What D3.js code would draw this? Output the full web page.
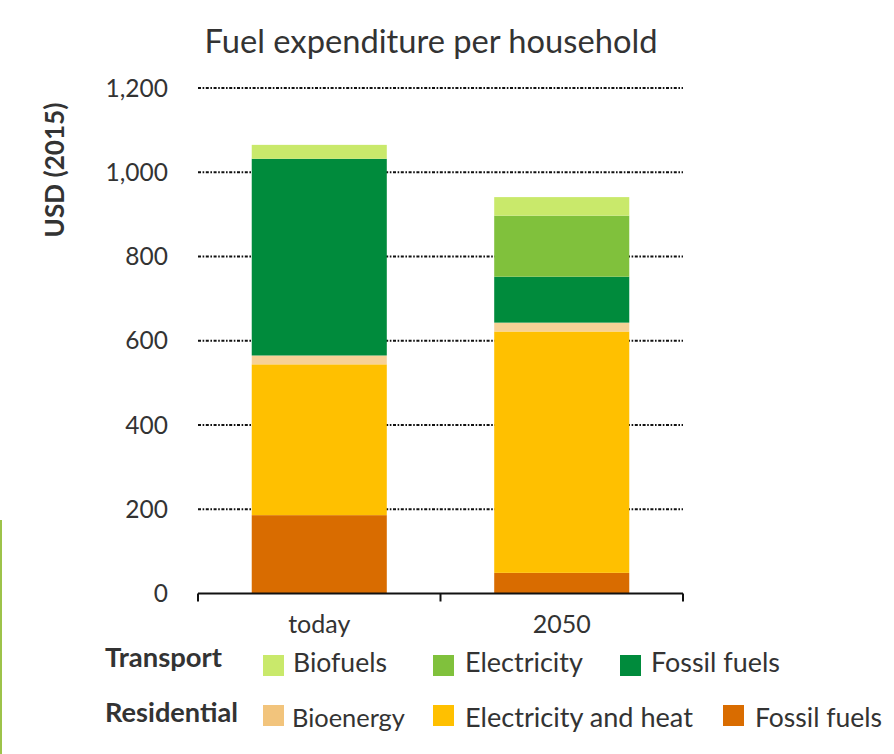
<!DOCTYPE html>
<html>
<head>
<meta charset="utf-8">
<script src="https://cdn.jsdelivr.net/npm/d3@7"></script>
<style>
  html, body { margin: 0; padding: 0; background: #fff; }
  svg { display: block; }
  text { font-family: Lato, "Open Sans", sans-serif; fill: #333; }
</style>
</head>
<body>
<svg id="chart" width="894" height="754"></svg>
<script>
// ---- data ----
const categories = ["today", "2050"];
const resFossil     = [186, 49];
const resElecHeat   = [358, 573];
const resBioenergy  = [21, 21];
const trFossil      = [467, 109];
const trElectricity = [0, 145];
const trBiofuels    = [33, 44];
const yTicks = [0, 200, 400, 600, 800, 1000, 1200];
const seriesKeys = ["resFossil", "resElecHeat", "resBioenergy", "trFossil", "trElectricity", "trBiofuels"];
const seriesColors = ["#d96c00", "#ffc000", "#f7d196", "#008b3c", "#80c13c", "#c9e96b"];
const transportLabels = ["Biofuels", "Electricity", "Fossil fuels"];
const residentialLabels = ["Bioenergy", "Electricity and heat", "Fossil fuels"];
const title = "Fuel expenditure per household";
const yLabel = "USD (2015)";

const rows = categories.map((c, i) => ({
  cat: c,
  resFossil: resFossil[i], resElecHeat: resElecHeat[i], resBioenergy: resBioenergy[i],
  trFossil: trFossil[i], trElectricity: trElectricity[i], trBiofuels: trBiofuels[i]
}));

const svg = d3.select("#chart");

// left decorative edge line present in the reference image
svg.append("rect").attr("x", 0).attr("y", 520).attr("width", 2).attr("height", 234).attr("fill", "#9dc34a");

const x = d3.scaleBand().domain(categories).range([198, 683]).paddingInner(0.443).paddingOuter(0.2216);
const y = d3.scaleLinear().domain([0, 1200]).range([593.5, 88]);

function fit(sel, w) {
  sel.each(function () {
    const cur = parseFloat(this.getAttribute("font-size"));
    const len = this.getComputedTextLength();
    this.setAttribute("font-size", (cur * w / len).toFixed(2));
  });
}

// gridlines
svg.append("g").selectAll("line").data(yTicks.filter(d => d > 0)).join("line")
  .attr("x1", 198).attr("x2", 683)
  .attr("y1", d => y(d)).attr("y2", d => y(d))
  .attr("stroke", "#111").attr("stroke-width", 2.2)
  .attr("stroke-dasharray", "3,1.6,1.6,1.6");

// y tick labels
svg.append("g").selectAll("text").data(yTicks).join("text")
  .attr("x", 168).attr("y", d => y(d)).attr("dy", "0.35em")
  .attr("text-anchor", "end").attr("font-size", 24.5)
  .text(d => d3.format(",")(d));

// stacked bars
const stack = d3.stack().keys(seriesKeys)(rows);
svg.append("g").selectAll("g").data(stack).join("g")
  .attr("fill", (d, i) => seriesColors[i])
  .selectAll("rect").data(d => d).join("rect")
  .attr("x", d => x(d.data.cat)).attr("width", x.bandwidth())
  .attr("y", d => y(d[1])).attr("height", d => y(d[0]) - y(d[1]));

// x axis
const xAxis = svg.append("g").attr("transform", `translate(0,${y(0)})`);
xAxis.append("line").attr("x1", 198).attr("x2", 683).attr("y1", 0).attr("y2", 0)
  .attr("stroke", "#111").attr("stroke-width", 2);
const tickXs = [198, (x(categories[0]) + x.bandwidth() / 2 + x(categories[1]) + x.bandwidth() / 2) / 2, 683];
xAxis.selectAll("line.t").data(tickXs).join("line").attr("class", "t")
  .attr("x1", d => d).attr("x2", d => d).attr("y1", 0).attr("y2", 8)
  .attr("stroke", "#111").attr("stroke-width", 2);
svg.append("g").selectAll("text").data(categories).join("text")
  .attr("x", d => x(d) + x.bandwidth() / 2).attr("y", 633)
  .attr("text-anchor", "middle").attr("font-size", 25)
  .text(d => d);

// title
svg.append("text").attr("x", 431).attr("y", 53).attr("text-anchor", "middle")
  .attr("font-size", 28).text(title).call(fit, 453);

// y label
svg.append("text").attr("transform", "translate(64,170) rotate(-90)")
  .attr("text-anchor", "middle").attr("font-size", 20).attr("font-weight", "bold")
  .attr("fill", "#4a4a4a")
  .text(yLabel).call(fit, 135);

// legend
const legend = svg.append("g");
const legendRows = [
  { name: "Transport", labels: transportLabels, colors: [seriesColors[5], seriesColors[4], seriesColors[3]],
    nameW: 117, base: 667, swY: 655, swX: [263, 433, 620], txX: [293, 465, 651], txW: [94, 118, 129] },
  { name: "Residential", labels: residentialLabels, colors: ["#f2c47c", seriesColors[1], seriesColors[0]],
    nameW: 133, base: 722, swY: 705, swX: [263, 433, 723], txX: [292, 465, 755], txW: [113, 228, 127] }
];
legendRows.forEach(r => {
  legend.append("text").attr("x", 105).attr("y", r.base).attr("font-size", 22)
    .attr("font-weight", "bold").attr("fill", "#222").text(r.name).call(fit, r.nameW);
  r.labels.forEach((lab, i) => {
    legend.append("rect").attr("x", r.swX[i]).attr("y", r.swY).attr("width", 21).attr("height", 21)
      .attr("fill", r.colors[i]);
    legend.append("text").attr("x", r.txX[i]).attr("y", r.base + 5).attr("font-size", 22)
      .text(lab).call(fit, r.txW[i]);
  });
});
</script>
</body>
</html>
